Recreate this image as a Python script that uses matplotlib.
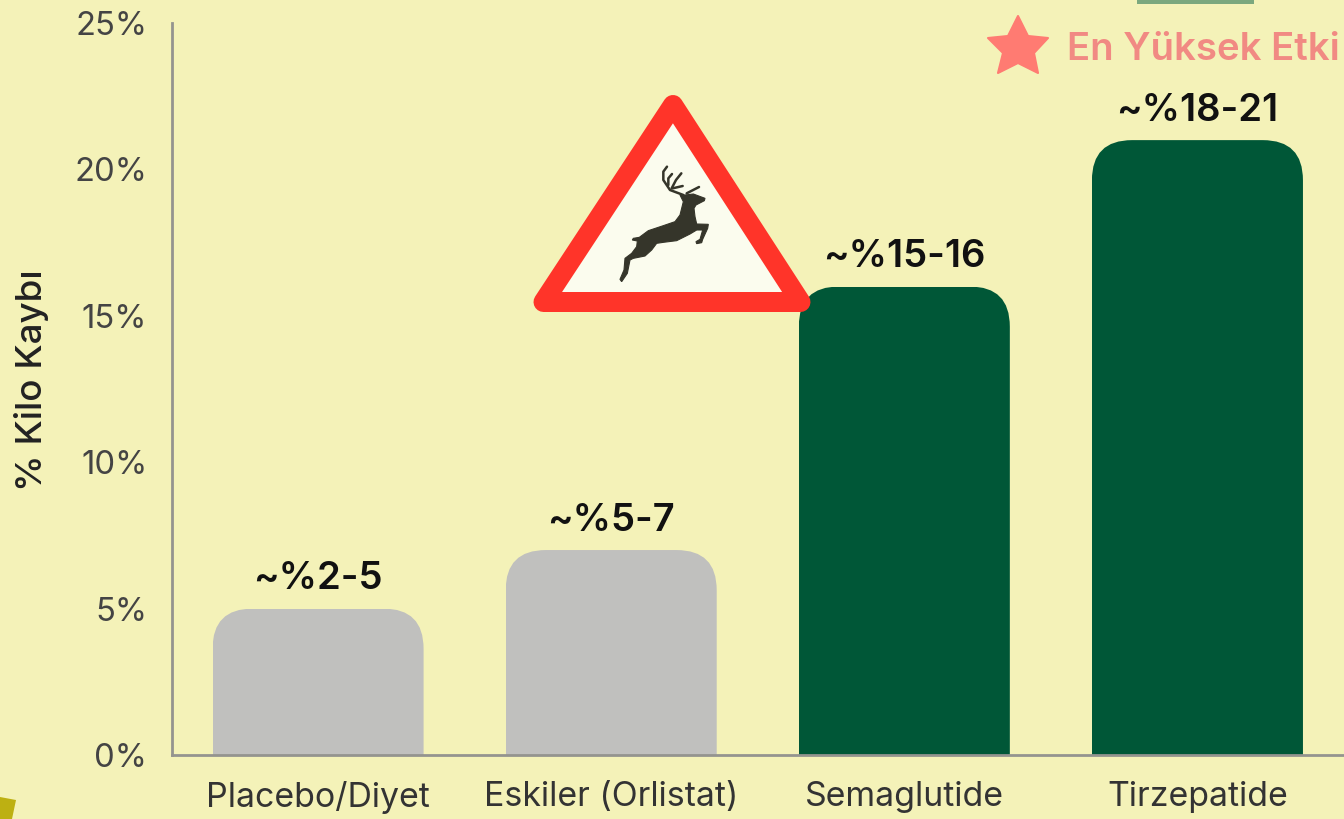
""" Weight loss by treatment, bar chart with the warning sign on top """

import matplotlib
matplotlib.use('Agg')
import matplotlib.pyplot as plt
from matplotlib.patches import FancyBboxPatch, Polygon, Rectangle

plt.rcParams['font.family'] = ['Inter', 'DejaVu Sans']

categories = ['Placebo/Diyet', 'Eskiler (Orlistat)', 'Semaglutide', 'Tirzepatide']
loss_top = [5, 7, 16, 21]
value_labels = ['~%2-5', '~%5-7', '~%15-16', '~%18-21']
y_ticks = [0, 5, 10, 15, 20, 25]

BG = '#f4f2b8'
GREY = '#c0c0be'
GREEN = '#005737'
RED = '#ff3429'
PINK = '#f18a83'
bar_colors = [GREY, GREY, GREEN, GREEN]

# decoration outlines in pixels of the 1344x819 picture
sign_triangle = [(673, 105), (543.5, 302), (800.5, 302)]
star_points = [(1018, 16), (1028, 36), (1048, 38), (1034, 53), (1038, 73), (1018, 63),
               (998, 73), (1003, 53), (988, 38), (1008, 36)]
deer_body = [(495, 345), (520, 342), (555, 355), (553, 362), (528, 375), (522, 385), (525, 410),
             (530, 432), (565, 433), (563, 445), (548, 478), (545, 488), (530, 491), (528, 485),
             (540, 478), (548, 450), (530, 450), (510, 462), (470, 482), (430, 487), (410, 490),
             (395, 510), (375, 528), (340, 535), (330, 540), (322, 580), (305, 605), (300, 598),
             (312, 570), (315, 535), (335, 520), (350, 500), (352, 483), (337, 480), (340, 475),
             (358, 472), (385, 452), (430, 437), (465, 425), (480, 405), (490, 365), (480, 345)]
deer_antlers = [[(490, 345), (450, 330), (430, 300), (430, 275), (441, 260)],
                [(445, 315), (445, 295), (456, 282)],
                [(455, 325), (468, 300), (484, 280)],
                [(458, 325), (488, 318)],
                [(500, 340), (537, 321)]]


def deer_px(points):
    # outlines were read from the 3x zoom of the sign
    return [(520 + x / 3, 80 + y / 3) for x, y in points]


W, H = 1344, 819
fig = plt.figure(figsize=(W / 100, H / 100), dpi=100, facecolor=BG)
ax = fig.add_axes([171.5 / W, (H - 755) / H, (W - 171.5) / W, 732 / H], facecolor='none')

bars = ax.bar(range(4), loss_top, width=0.72, color=bar_colors, zorder=2)
for bar, top in zip(bars, loss_top):
    # rounded top only, the lower corners fall below the axis
    round_top = FancyBboxPatch((bar.get_x(), -5), bar.get_width(), top + 5,
                               boxstyle='round,pad=0,rounding_size=0.137', mutation_aspect=10,
                               transform=ax.transData)
    bar.set_clip_path(round_top)

for i, top in enumerate(loss_top):
    ax.annotate(value_labels[i], (i, top), xytext=(0, 21), textcoords='offset points',
                ha='center', va='center', fontsize=27.5, fontweight='semibold', color='#111111')

ax.set_xlim(-0.5, 3.5)
ax.set_ylim(0, 25)
ax.set_xticks(range(4), categories)
ax.set_yticks(y_ticks, ['%d%%' % t for t in y_ticks])
ax.tick_params(axis='x', length=0, pad=19, labelsize=24.4, labelcolor='#333333')
ax.tick_params(axis='y', length=0, pad=17.5, labelsize=23.6, labelcolor='#444444')
for side in ['top', 'right']:
    ax.spines[side].set_visible(False)
for side in ['left', 'bottom']:
    ax.spines[side].set_color('#94948f')
    ax.spines[side].set_linewidth(2)

fig.text(32 / W, 1 - 380 / H, '% Kilo Kaybı', rotation=90, ha='center', va='center',
         fontsize=26.5, fontweight='medium', color='#222222')

# overlay in picture pixels for the sign, star and cut off shapes
over = fig.add_axes([0, 0, 1, 1], facecolor='none')
over.set_xlim(0, W)
over.set_ylim(H, 0)
over.axis('off')

over.add_patch(Polygon(sign_triangle, closed=True, facecolor='#fbfcee', edgecolor=RED,
                       linewidth=14.4, joinstyle='round'))
over.add_patch(Polygon(deer_px(deer_body), closed=True, facecolor='#35352a', edgecolor='#35352a',
                       linewidth=0.8))
for antler in deer_antlers:
    xs, ys = zip(*deer_px(antler))
    over.plot(xs, ys, color='#35352a', lw=1.8, solid_capstyle='round')

over.add_patch(Polygon(star_points, closed=True, facecolor='#ff7b72', edgecolor='#ff7b72',
                       linewidth=1.5, joinstyle='round'))
over.text(1067, 50, 'En Yüksek Etki', ha='left', va='center', fontsize=27.6,
          fontweight='semibold', color=PINK)

over.add_patch(Rectangle((1137, 0), 117, 3.5, facecolor='#7ba87e', edgecolor='none'))
over.add_patch(Polygon([(0, 797), (16, 800), (12, 819), (0, 819)], closed=True,
                       facecolor='#bdb012', edgecolor='none'))

fig.savefig('out.png', dpi=100, facecolor=BG)
